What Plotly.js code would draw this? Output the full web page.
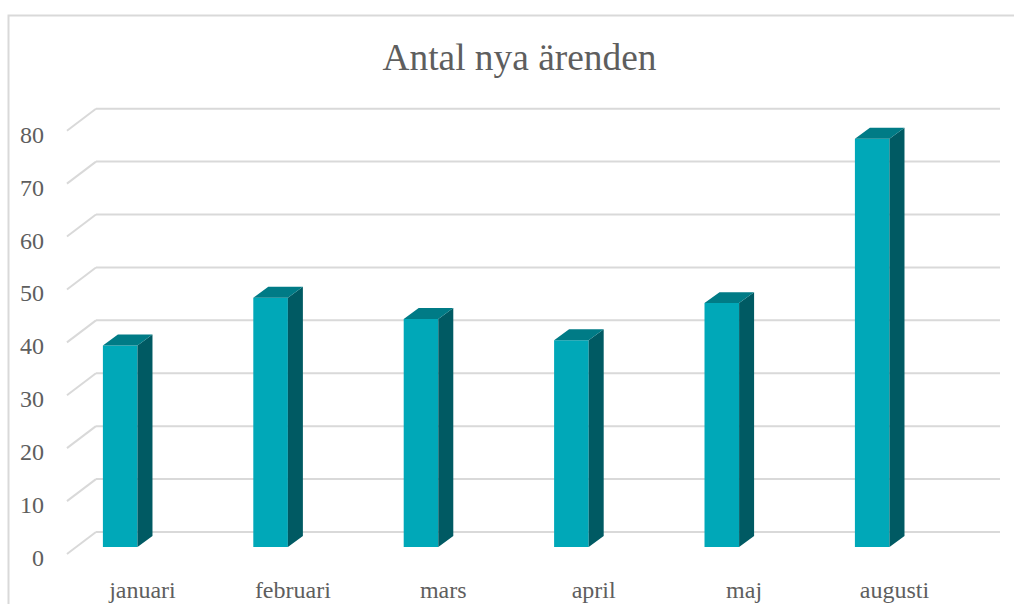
<!DOCTYPE html>
<html>
<head>
<meta charset="utf-8">
<script src="https://cdn.plot.ly/plotly-3.0.1.min.js"></script>
<style>html,body{margin:0;padding:0;background:#fff;overflow:hidden}</style>
</head>
<body>
<div id="chart" style="width:1014px;height:604px"></div>
<script>
const categories = ["januari", "februari", "mars", "april", "maj", "augusti"];
const values = [38, 47, 43, 39, 46, 77];
const gridValues = [0, 10, 20, 30, 40, 50, 60, 70, 80];

const barWidth = 0.23, depthX = 0.0997, depthY = 2.07;
const wallBackX = -0.161, wallFrontX = -0.354, wallEndX = 5.85;
const wallBackY = 2.83, wallFrontY = -1.32, wallScale = 0.998;
const labelShiftX = 0.148, labelShiftY = -2.0;
const idx = categories.map((_, i) => i);
const fontFamily = '"Liberation Serif", "Times New Roman", serif';
const textColor = "#5e5e5e", gridColor = "#d9d9d9";

const sideX = [], sideY = [], topX = [], topY = [];
values.forEach((v, i) => {
  const l = i - barWidth / 2, r = i + barWidth / 2;
  sideX.push(r, r + depthX, r + depthX, r, r, null);
  sideY.push(0, depthY, v + depthY, v, 0, null);
  topX.push(l, l + depthX, r + depthX, r, l, null);
  topY.push(v, v + depthY, v + depthY, v, v, null);
});

const gridShapes = [];
gridValues.forEach(g => {
  const line = {color: gridColor, width: 2};
  const level = g * wallScale;
  gridShapes.push({type: "line", layer: "below", xref: "x", yref: "y",
    x0: wallFrontX, y0: level + wallFrontY, x1: wallBackX, y1: level + wallBackY, line});
  gridShapes.push({type: "line", layer: "below", xref: "x", yref: "y",
    x0: wallBackX, y0: level + wallBackY, x1: wallEndX, y1: level + wallBackY, line});
});
const frame = {type: "rect", layer: "below", xref: "paper", yref: "paper",
  x0: (8.5 - 48) / 952, x1: 1.1, y0: (570 - 15.5) / 480, y1: -0.2,
  line: {color: gridColor, width: 2}, fillcolor: "rgba(0,0,0,0)"};

const traces = [
  {type: "bar", x: idx, y: values, width: barWidth,
   marker: {color: "#00a8b8", line: {width: 0}}, hoverinfo: "skip", showlegend: false},
  {type: "scatter", mode: "lines", x: sideX, y: sideY, fill: "toself",
   fillcolor: "#005a63", line: {width: 0, color: "#005a63"}, hoverinfo: "skip", showlegend: false},
  {type: "scatter", mode: "lines", x: topX, y: topY, fill: "toself",
   fillcolor: "#007b86", line: {width: 0, color: "#007b86"}, hoverinfo: "skip", showlegend: false}
];

const layout = {
  width: 1014, height: 604,
  margin: {l: 48, r: 14, t: 90, b: 34, pad: 0},
  paper_bgcolor: "#ffffff", plot_bgcolor: "rgba(0,0,0,0)",
  showlegend: false,
  title: {text: "Antal nya ärenden", x: 519.5 / 1014, xref: "container", xanchor: "center",
    y: 1 - 57 / 604, yref: "container", yanchor: "middle",
    font: {family: fontFamily, size: 37.4, color: textColor}},
  xaxis: {
    range: [-0.48, 5.8497], showgrid: false, zeroline: false, showline: false, ticks: "",
    tickmode: "array", tickvals: idx.map(i => i + labelShiftX), ticktext: categories,
    tickangle: 0, ticklabelstandoff: 3,
    tickfont: {family: fontFamily, size: 24, color: textColor}, automargin: false, fixedrange: true
  },
  yaxis: {
    range: [-4.34, 86.2], showgrid: false, zeroline: false, showline: false, ticks: "",
    tickmode: "array", tickvals: gridValues.map(g => g * wallScale + labelShiftY), ticktext: gridValues.map(String),
    ticklabelstandoff: 3,
    tickfont: {family: fontFamily, size: 24, color: textColor}, automargin: false, fixedrange: true
  },
  shapes: [frame].concat(gridShapes)
};
Plotly.newPlot("chart", traces, layout, {displayModeBar: false, staticPlot: true});
</script>
</body>
</html>
